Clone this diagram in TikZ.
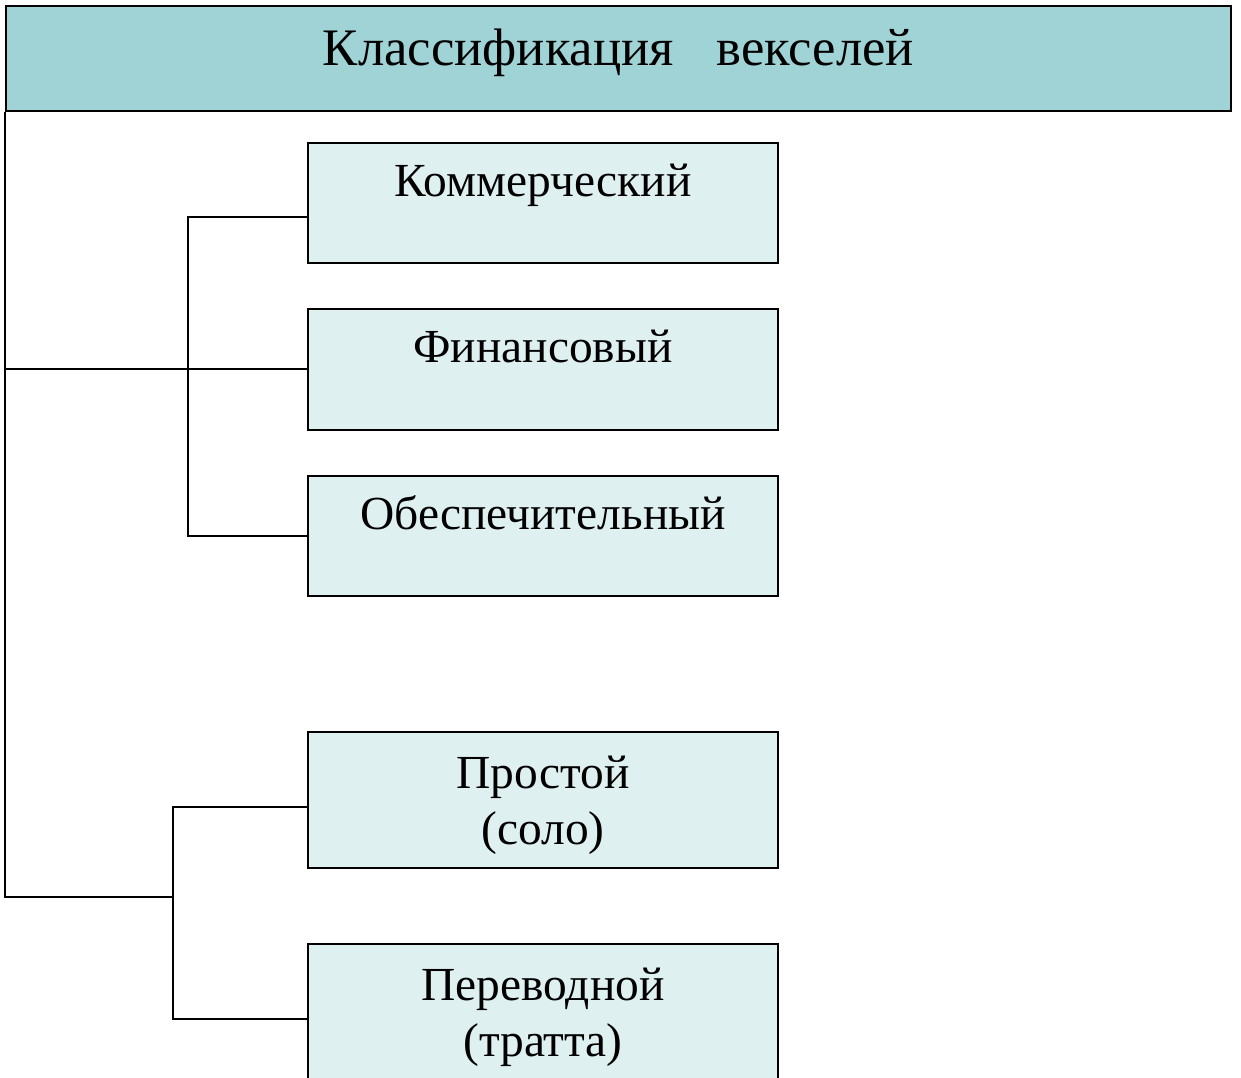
\documentclass[tikz,border=0pt]{standalone}
\usepackage{fontspec}
\setmainfont{Liberation Serif}
\usetikzlibrary{positioning}

\definecolor{headfill}{HTML}{9FD3D6}
\definecolor{boxfill}{HTML}{DFF0F0}

\begin{document}
\begin{tikzpicture}[x=0.02cm,y=-0.02cm,line width=1.1pt,
    font=\fontsize{27}{32}\selectfont,
    head/.style={draw,fill=headfill,inner sep=0pt,
        minimum width=24.5cm,minimum height=2.1cm,
        font=\fontsize{30}{36}\selectfont,
        text height=0.86cm,text depth=0.56cm},
    kind/.style={draw,fill=boxfill,inner sep=0pt,anchor=north,
        minimum width=9.4cm,align=center}]
    \useasboundingbox (0,0) rectangle (1241,1078);
    \clip (0,0) rectangle (1241,1078);

    \node[head] (head) at (618.5,58.5)
        {Классификация\hspace{0.85cm}векселей};

    % First group.
    \node[kind,text height=1.08cm,text depth=1.32cm] (komm) at (543,142)
        {Коммерческий};
    \node[kind,text height=1.08cm,text depth=1.34cm] (fin) at (543,308)
        {Финансовый};
    \node[kind,text height=1.08cm,text depth=1.32cm] (obes) at (543,475)
        {Обеспечительный};

    % Second group.
    \node[kind,text height=2.26cm,text depth=0.46cm] (pros) at (543,731)
        {Простой\\(соло)};
    \node[kind,text height=2.26cm,text depth=0.74cm] (perv) at (543,943)
        {Переводной\\(тратта)};

    \coordinate (fork1) at (188,368);
    \coordinate (fork2) at (173,897);

    \draw (head.south west) -- (head.south west |- fork2) -- (fork2);
    \draw (head.south west |- fin.west) -- (fin.west);
    \draw ([yshift=-0.28cm]komm.west) -| (fork1 |- obes.west) -- (obes.west);
    \draw ([yshift=-0.14cm]pros.west) -| (fork2 |- perv.west) -- (perv.west);
\end{tikzpicture}
\end{document}
